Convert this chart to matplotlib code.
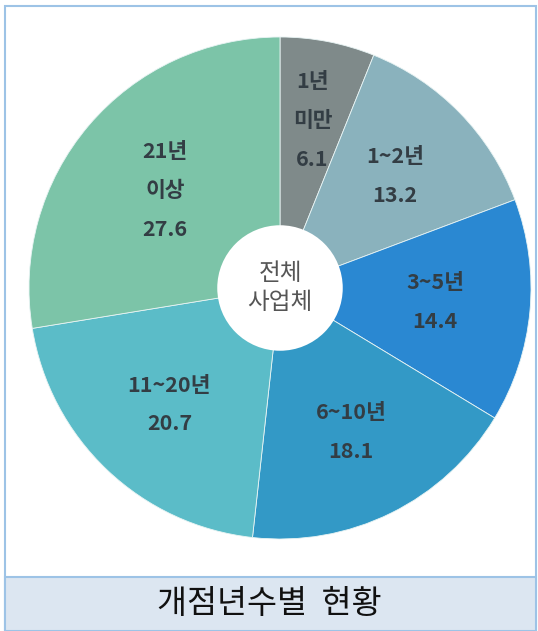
import numpy as np
import matplotlib
matplotlib.use('Agg')
import matplotlib.pyplot as plt
from matplotlib.patches import Rectangle, Circle

plt.rcParams['font.family'] = ['Noto Sans CJK KR', 'DejaVu Sans']

categories = ['1년\n미만', '1~2년', '3~5년', '6~10년', '11~20년', '21년\n이상']
values = [6.1, 13.2, 14.4, 18.1, 20.7, 27.6]
colors = ['#7f8a8a', '#8ab2bd', '#2a88d2', '#3399c6', '#5bbcc8', '#7cc4a8']
label_r = [0.68, 0.64, 0.62, 0.64, 0.64, 0.60]

W, H = 538, 631
fig = plt.figure(figsize=(W / 100, H / 100), dpi=100)

# outer frame and caption band
fig.patches.append(Rectangle((5 / W, 0), 531 / W, (H - 6) / H, transform=fig.transFigure,
                             fill=False, edgecolor='#9dc3e6', linewidth=1.5))
fig.patches.append(Rectangle((5 / W, 0), 531 / W, 54 / H, transform=fig.transFigure,
                             facecolor='#dce6f1', edgecolor='#9dc3e6', linewidth=1.5))
fig.text(0.5, 27 / H, '개점년수별  현황', ha='center', va='center', fontsize=23.5, color='#111111')

cx, cy, R = 280, 288, 251
ax = fig.add_axes([(cx - R) / W, (H - cy - R) / H, 2 * R / W, 2 * R / H])
wedges, _ = ax.pie(values, colors=colors, startangle=90, counterclock=False,
                   wedgeprops=dict(linewidth=0.6, edgecolor='#e8f4f4'))
ax.add_patch(Circle((0, 0), 0.25, facecolor='white', edgecolor='none', zorder=5))
ax.text(0, 0, '전체\n사업체', ha='center', va='center', fontsize=17, fontweight='medium',
        color='#555555', linespacing=1.35, zorder=6)

total = sum(values)
start = 90.0
for lab, v, r in zip(categories, values, label_r):
    mid = np.deg2rad(start - 360 * v / total / 2)
    start -= 360 * v / total
    ax.text(r * np.cos(mid), r * np.sin(mid), f'{lab}\n{v}', ha='center', va='center',
            fontsize=15.5, fontweight='bold', color='#333d44', linespacing=2.05)

ax.set_xlim(-1, 1)
ax.set_ylim(-1, 1)
ax.axis('off')

fig.savefig('out.png', dpi=100)
